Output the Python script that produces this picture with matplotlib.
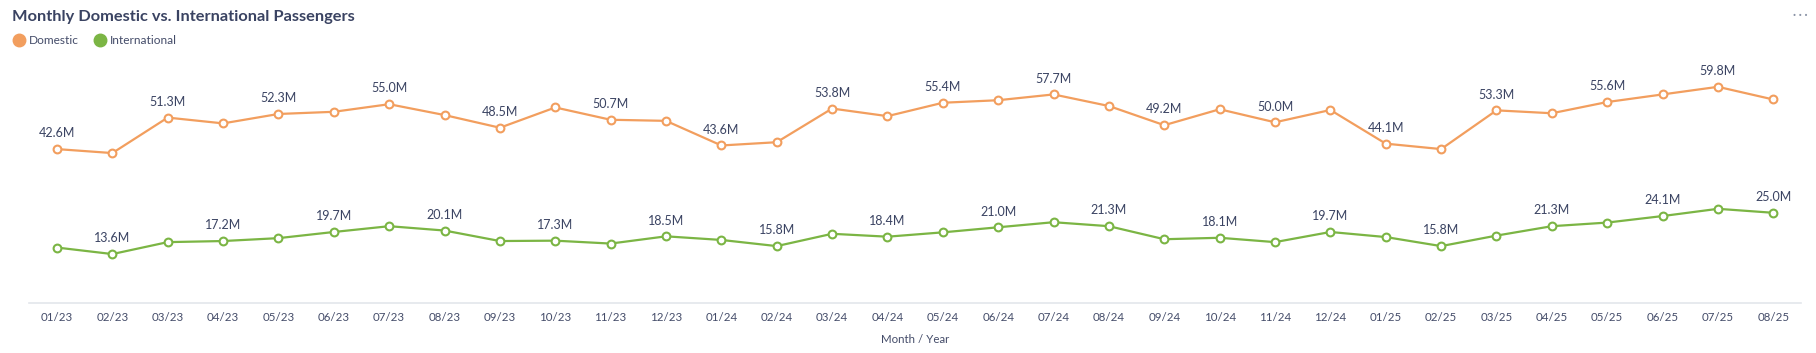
import matplotlib
matplotlib.use("Agg")
import matplotlib.pyplot as plt
from matplotlib.lines import Line2D

months = ["01/23", "02/23", "03/23", "04/23", "05/23", "06/23", "07/23", "08/23",
          "09/23", "10/23", "11/23", "12/23", "01/24", "02/24", "03/24", "04/24",
          "05/24", "06/24", "07/24", "08/24", "09/24", "10/24", "11/24", "12/24",
          "01/25", "02/25", "03/25", "04/25", "05/25", "06/25", "07/25", "08/25"]
domestic = [42.6, 41.5, 51.3, 49.7, 52.3, 52.9, 55.0, 52.0, 48.5, 54.1,
            50.7, 50.4, 43.6, 44.5, 53.8, 51.7, 55.4, 56.1, 57.7, 54.5,
            49.2, 53.6, 50.0, 53.4, 44.1, 42.6, 53.3, 52.5, 55.6, 57.7,
            59.8, 56.3]
international = [15.4, 13.6, 16.9, 17.2, 18.0, 19.7, 21.3, 20.1, 17.2, 17.3,
                 16.5, 18.5, 17.5, 15.8, 19.2, 18.4, 19.6, 21.0, 22.4, 21.3,
                 17.7, 18.1, 16.9, 19.7, 18.3, 15.8, 18.7, 21.3, 22.3, 24.1,
                 26.1, 25.0]
series_names = ["Domestic", "International"]

ORANGE = "#F29E5E"
GREEN = "#7BB544"
TXT = "#3A4362"
TICK = "#444C69"
FONT = "Lato"

W, H = 1816, 353
fig = plt.figure(figsize=(W / 100, H / 100), dpi=100)
left, right = 29.3 / W, 1801 / W
bottom, top = (H - 303.3) / H, (H - 49.9) / H
ax = fig.add_axes([left, bottom, right - left, top - bottom])

x = list(range(len(months)))
for vals, color, parity in [(domestic, ORANGE, 0), (international, GREEN, 1)]:
    ax.plot(x, vals, color=color, lw=1.6, marker="o", ms=5.6,
            mfc="white", mec=color, mew=1.5, zorder=3)
    for i, v in enumerate(vals):
        if i % 2 == parity:
            ax.annotate(f"{v:.1f}M", (i, v), xytext=(0, 7), textcoords="offset points",
                        ha="center", va="bottom", fontsize=9.0, color=TXT,
                        family=FONT, zorder=4)

ax.set_xlim(-0.5, len(months) - 0.5)
ax.set_ylim(0, 70)
ax.set_xticks(x)
ax.set_xticklabels(months, family=FONT, fontsize=8.3, color=TICK)
ax.tick_params(axis="x", length=0, pad=6)
ax.set_yticks([])
for s in ["top", "right", "left"]:
    ax.spines[s].set_visible(False)
ax.spines["bottom"].set_color("#E3E6EB")
ax.spines["bottom"].set_linewidth(1.2)
ax.set_xlabel("Month / Year", family=FONT, fontsize=8.3, color=TICK, labelpad=8)

fig.text(12.5 / W, 1 - 16.5 / H, "Monthly Domestic vs. International Passengers",
         family=FONT, fontweight="bold", fontsize=11.8, color=TXT,
         ha="left", va="center")

handles = [Line2D([], [], ls="", marker="o", ms=9, mfc=c, mec=c) for c in (ORANGE, GREEN)]
fig.legend(handles, series_names, loc="center left", bbox_to_anchor=(11 / W, 1 - 40.5 / H),
           ncol=2, frameon=False, prop={"family": FONT, "size": 8.6},
           labelcolor=TICK, handletextpad=0.1, columnspacing=1.1, handlelength=1.4,
           borderaxespad=0, borderpad=0)

fig.text(1800 / W, 1 - 15 / H, "· · ·", family=FONT, fontweight="bold", fontsize=8,
         color="#8A93A6", ha="center", va="center")

fig.savefig("out.png", dpi=100, facecolor="white")
